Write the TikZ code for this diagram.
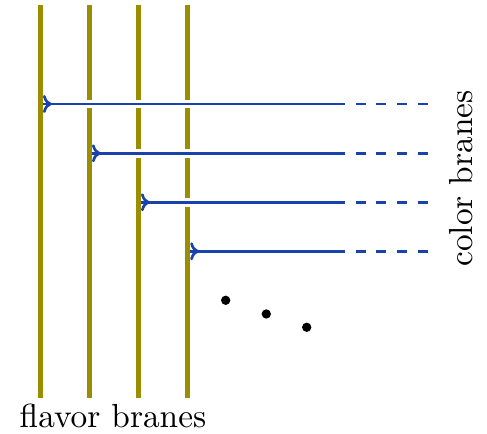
\documentclass[tikz,border=0pt]{standalone}
\usetikzlibrary{arrows.meta,decorations.markings}
\definecolor{brolive}{RGB}{155,141,0}
\definecolor{brblue}{RGB}{25,66,170}
\tikzset{
  flavor/.style={draw=brolive,line width=1.6pt},
  colorsolid/.style={draw=brblue,line width=0.8pt,
    preaction={draw=white,line width=2.6pt},
    postaction={decorate,decoration={markings,
      mark=at position 2.6pt with {\arrow[line width=0.8pt]{To[length=2.6pt,width=5.4pt]}}}}},
  colordash/.style={draw=brblue,line width=0.8pt,dash pattern=on 3pt off 3.2pt},
  dotmark/.style={fill=black,circle,inner sep=0pt,minimum size=2.8pt},
  lbl/.style={font=\normalsize,inner sep=0pt}
}
\begin{document}
\begin{tikzpicture}[x=0.3pt,y=-0.3pt]
\useasboundingbox (0,0) rectangle (487,434);
% flavor branes
\foreach \i/\x in {1/40.3,2/89.3,3/138.3,4/187.5}{
  \coordinate (f\i t) at (\x,5);
  \coordinate (f\i b) at (\x,398);
  \draw[flavor] (f\i t) -- (f\i b);
}
% color branes
\foreach \i/\x/\y in {1/43/104,2/92/153.3,3/141/202.3,4/190.2/251.3}{
  \coordinate (c\i s) at (\x,\y);
  \coordinate (c\i m) at (336,\y);
  \coordinate (c\i d) at (335,\y);
  \coordinate (c\i e) at (429,\y);
  \draw[colorsolid] (c\i s) -- (c\i m);
  \draw[colordash] (c\i d) -- (c\i e);
}
% dots
\node[dotmark] (d1) at (225.7,300.3) {};
\node[dotmark] (d2) at (266.3,314) {};
\node[dotmark] (d3) at (306.7,327.3) {};
% labels
\node[lbl,anchor=base] (fl) at (113,427.7) {flavor branes};
\node[lbl,anchor=base,rotate=90] (cl) at (472.5,178.5) {color branes};
\end{tikzpicture}
\end{document}
